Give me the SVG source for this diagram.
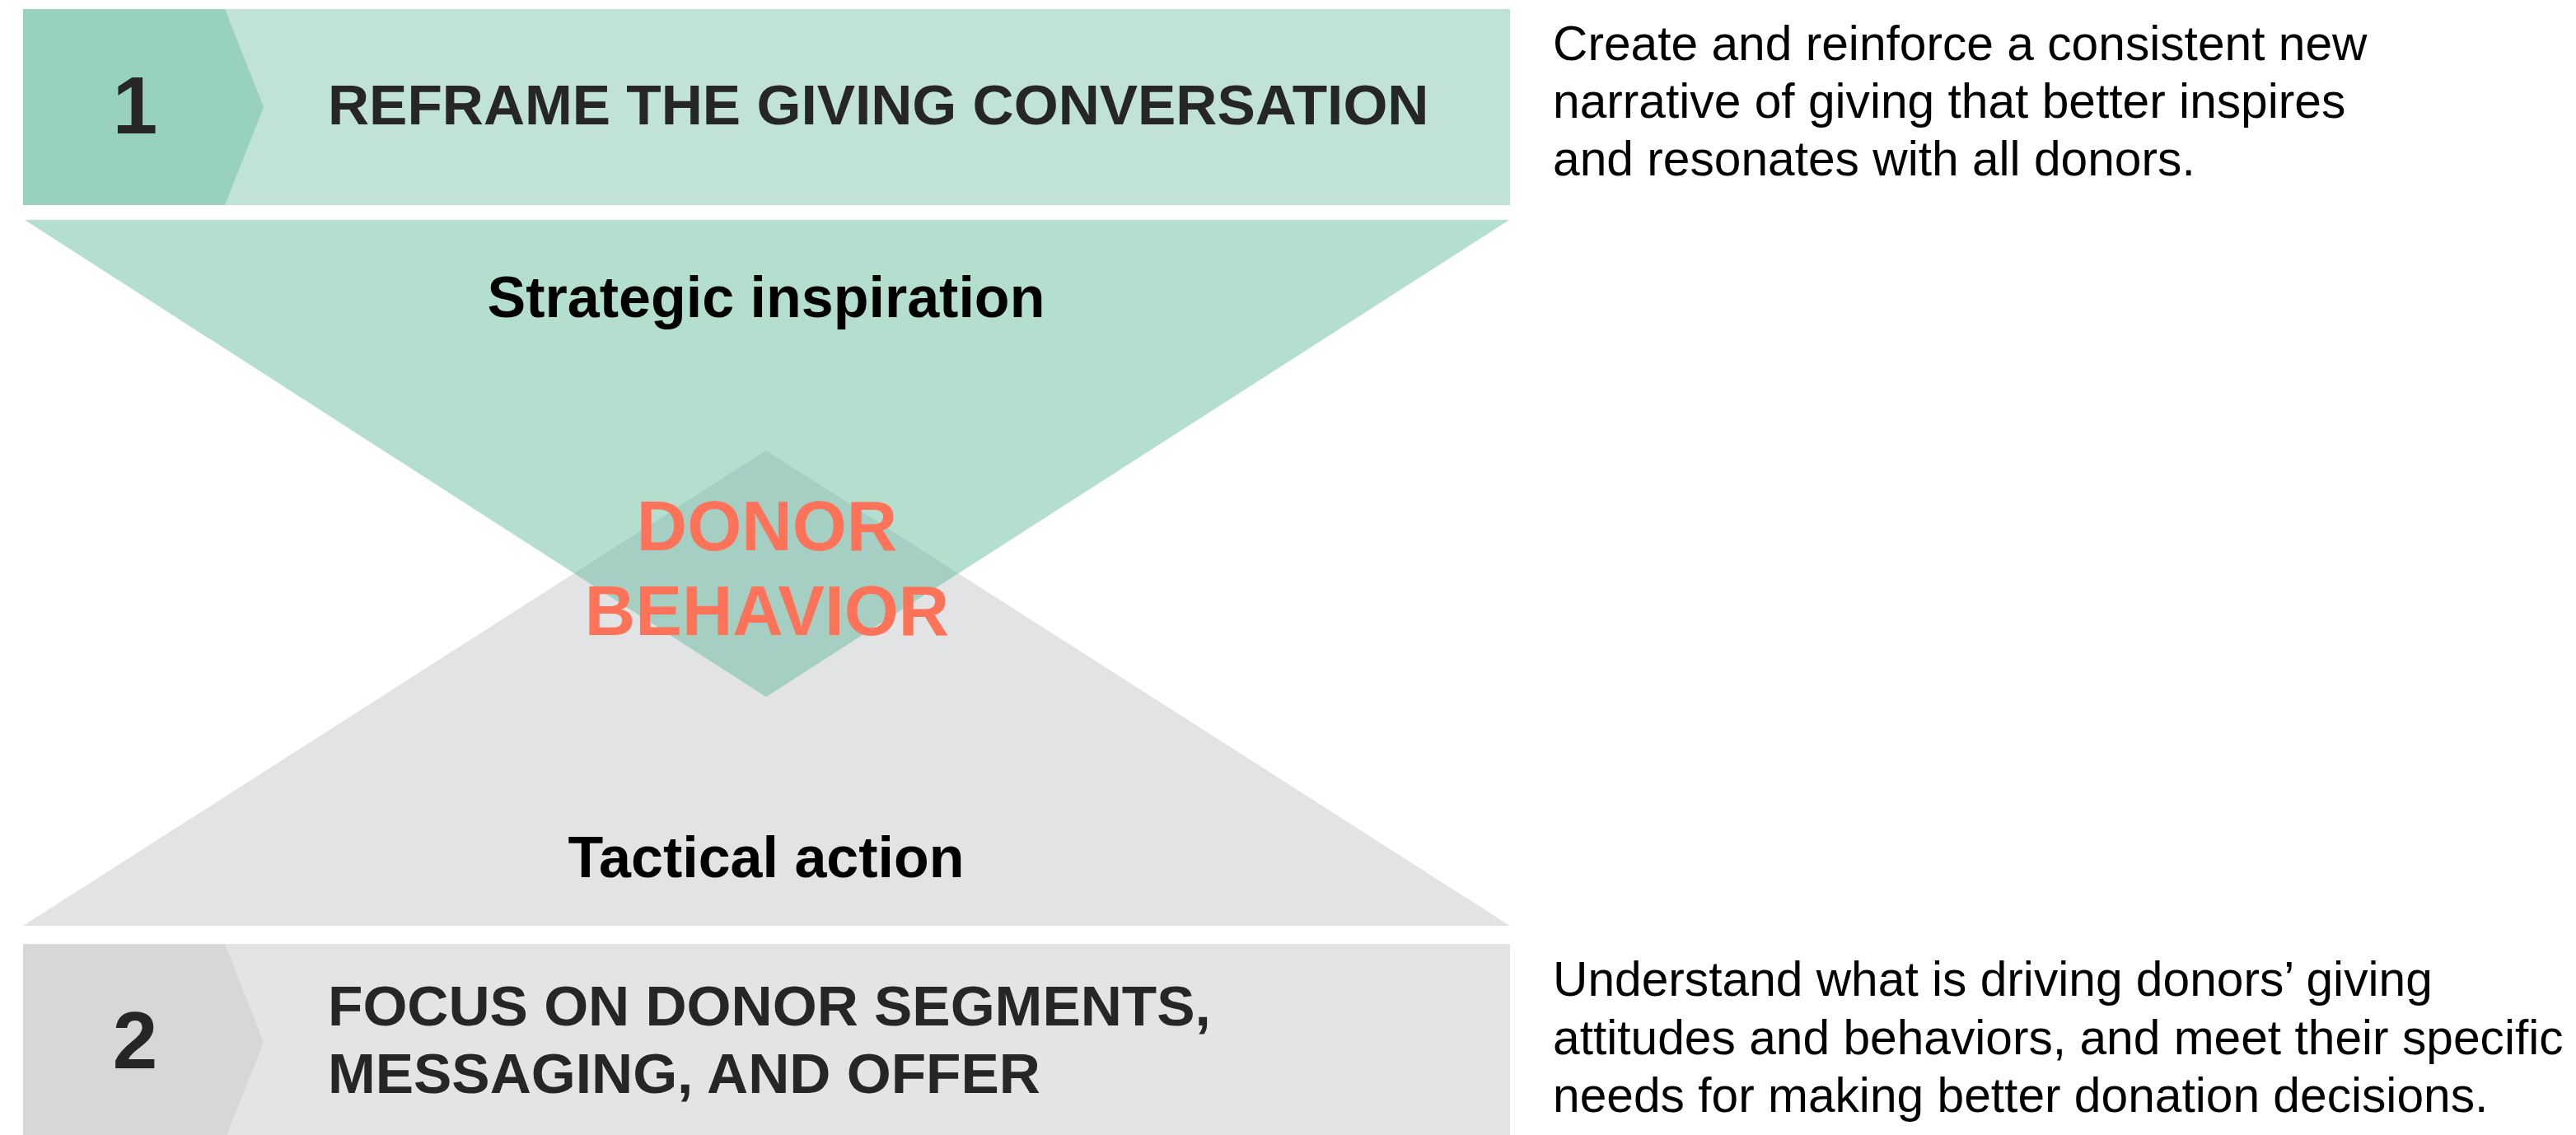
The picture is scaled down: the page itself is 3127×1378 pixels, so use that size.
<svg xmlns="http://www.w3.org/2000/svg" width="3127" height="1378" viewBox="0 0 3127 1378">
  <style>
    .num { font-family: "Liberation Sans", Arial, sans-serif; font-weight: bold; font-size: 98px; fill: #262626; text-anchor: middle; }
    .title { font-family: "Liberation Sans", Arial, sans-serif; font-weight: bold; font-size: 69.4px; fill: #262626; }
    .label { font-family: "Liberation Sans", Arial, sans-serif; font-weight: bold; font-size: 70px; fill: #000000; text-anchor: middle; }
    .core { font-family: "Liberation Sans", Arial, sans-serif; font-weight: bold; font-size: 85px; fill: #FC735A; text-anchor: middle; }
    .desc { font-family: "Liberation Sans", Arial, sans-serif; font-size: 58.7px; fill: #000000; }
  </style>
  <rect width="3127" height="1378" fill="#FFFFFF"/>

  <!-- Step 1 banner -->
  <g id="step1">
    <rect x="28" y="11" width="1805" height="238" fill="#C1E2D6"/>
    <polygon points="28,11 273,11 320,130 273,249 28,249" fill="#98D1BC"/>
    <text class="num" x="164" y="162">1</text>
    <text class="title" x="398" y="151">REFRAME THE GIVING CONVERSATION</text>
  </g>

  <!-- Tactical action (upward triangle) -->
  <g id="tactical">
    <polygon points="28,1124 1833,1124 930,547" fill="#E2E3E5"/>
    <text class="label" x="930" y="1065">Tactical action</text>
  </g>

  <!-- Strategic inspiration (downward triangle) -->
  <g id="strategic">
    <polygon points="30,267 1832,267 930,846" fill="#B4DFCF"/>
    <text class="label" x="930" y="385">Strategic inspiration</text>
  </g>

  <!-- Overlap of the two triangles -->
  <g id="donor-behavior">
    <polygon points="930,547 1163,696 930,846 697,696" fill="#A5CFC2"/>
    <text class="core" x="931" y="668">DONOR</text>
    <text class="core" x="931" y="771">BEHAVIOR</text>
  </g>

  <!-- Step 2 banner -->
  <g id="step2">
    <rect x="28" y="1146" width="1805" height="238" fill="#E4E4E5"/>
    <polygon points="28,1146 273,1146 320,1265 273,1384 28,1384" fill="#D6D7D9"/>
    <text class="num" x="164" y="1297">2</text>
    <text class="title" x="398" y="1245">FOCUS ON DONOR SEGMENTS,</text>
    <text class="title" x="398" y="1327">MESSAGING, AND OFFER</text>
  </g>

  <!-- Descriptions -->
  <g id="desc1">
    <text class="desc" x="1885" y="73">Create and reinforce a consistent new</text>
    <text class="desc" x="1885" y="143">narrative of giving that better inspires</text>
    <text class="desc" x="1885" y="213">and resonates with all donors.</text>
  </g>
  <g id="desc2">
    <text class="desc" x="1885" y="1209">Understand what is driving donors’ giving</text>
    <text class="desc" x="1885" y="1280">attitudes and behaviors, and meet their specific</text>
    <text class="desc" x="1885" y="1350">needs for making better donation decisions.</text>
  </g>

  <g id="connectors"></g>
</svg>
